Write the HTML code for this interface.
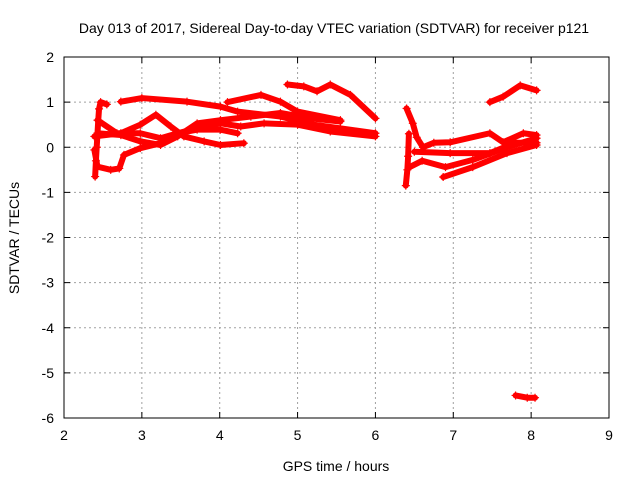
<!DOCTYPE html>
<html><head><meta charset="utf-8"><style>
body{margin:0;background:#fff}
svg text{font-family:"Liberation Sans",sans-serif;font-size:14px;fill:#000}
</style></head><body>
<svg id="c" width="640" height="480"></svg>
<script>
const xTicks=[2,3,4,5,6,7,8,9];
const yTicks=[2,1,0,-1,-2,-3,-4,-5,-6];
const track1=[[2.73,1.01],[3.0,1.09],[3.58,1.01],[4.01,0.9],[4.23,0.79],[4.78,0.68],[5.21,0.5],[5.55,0.42],[6.0,0.31]];
const track2=[[4.1,1.0],[4.53,1.16],[4.78,1.01],[5.0,0.79],[5.55,0.6]];
const track3=[[4.87,1.39],[5.08,1.35],[5.25,1.24],[5.42,1.39],[5.68,1.16],[6.0,0.64]];
const track4=[[2.39,0.24],[2.73,0.31],[2.98,0.5],[3.18,0.72],[3.37,0.46],[3.54,0.24],[3.8,0.13],[4.01,0.05],[4.31,0.09]];
const track5=[[2.43,0.31],[2.73,0.27],[2.98,0.13],[3.24,0.05],[3.46,0.24],[3.71,0.53],[4.01,0.6],[4.4,0.68],[4.78,0.76],[5.17,0.64],[5.55,0.57]];
const track6=[[2.43,0.6],[2.68,0.31],[2.98,0.31],[3.24,0.2],[3.46,0.31],[3.71,0.42],[4.01,0.53],[4.27,0.46],[4.57,0.53],[5.0,0.5],[5.42,0.35],[6.0,0.24]];
const track7=[[2.39,-0.06],[2.43,-0.43],[2.6,-0.5],[2.71,-0.47],[2.77,-0.17],[2.98,-0.02],[3.24,0.09],[3.46,0.31],[3.71,0.39],[4.01,0.39],[4.23,0.31]];
const track8=[[2.4,-0.65],[2.41,-0.3],[2.42,0.0],[2.43,0.3],[2.44,0.6],[2.45,0.85],[2.47,1.0],[2.55,0.95]];
const trackR1=[[7.47,1.0],[7.64,1.12],[7.86,1.37],[8.07,1.26]];
const trackR2=[[6.4,0.86],[6.48,0.53],[6.53,0.22],[6.61,0.0],[6.75,0.1],[6.96,0.11],[7.47,0.31],[7.64,0.11],[7.9,0.31],[8.07,0.27]];
const trackR3=[[6.87,-0.66],[7.25,-0.44],[7.69,-0.13],[8.07,0.05]];
const trackR4=[[6.44,-0.44],[6.6,-0.3],[6.9,-0.44],[7.25,-0.28],[7.69,0.0],[8.07,0.2]];
const trackR5=[[6.5,-0.1],[6.96,-0.13],[7.47,-0.13],[7.8,0.1],[8.07,0.1]];
const trackR6=[[6.39,-0.85],[6.41,-0.5],[6.42,-0.2],[6.43,0.3]];
const trackR7=[[7.8,-5.5],[7.95,-5.55],[8.05,-5.55]];
const tracks=[track1,track2,track3,track4,track5,track6,track7,track8,trackR1,trackR2,trackR3,trackR4,trackR5,trackR6,trackR7];
const L=64,R=609,T=57,B=418;
const X=t=>L+(t-2)/7*(R-L);
const Y=v=>T+(2-v)/8*(B-T);
const NS='http://www.w3.org/2000/svg';
const svg=document.getElementById('c');
function mk(tag,attrs,parent){const e=document.createElementNS(NS,tag);for(const k in attrs)e.setAttribute(k,attrs[k]);(parent||svg).appendChild(e);return e;}
const grid=mk('g',{});


xTicks.forEach(t=>{if(t>2&&t<9)mk('line',{x1:X(t),x2:X(t),y1:T,y2:B,stroke:'#a0a0a0','stroke-dasharray':'2,3'},grid);
 const tx=mk('text',{x:X(t),y:B+22,'text-anchor':'middle'});tx.textContent=t;
 
 
 mk('line',{x1:X(t),x2:X(t),y1:B,y2:B-6,stroke:'#000'});mk('line',{x1:X(t),x2:X(t),y1:T,y2:T+6,stroke:'#000'});});
yTicks.forEach(v=>{if(v<2&&v>-6)mk('line',{x1:L,x2:R,y1:Y(v),y2:Y(v),stroke:'#a0a0a0','stroke-dasharray':'2,3'},grid);
 const tx=mk('text',{x:L-10,y:Y(v)+5,'text-anchor':'end'});tx.textContent=v;
 
 
 mk('line',{x1:L,x2:L+6,y1:Y(v),y2:Y(v),stroke:'#000'});mk('line',{x1:R,x2:R-6,y1:Y(v),y2:Y(v),stroke:'#000'});});
const frame=mk('rect',{x:L,y:T,width:R-L,height:B-T,fill:'none',stroke:'#000'});


const series=mk('g',{});


tracks.forEach(tr=>{
 const pl=mk('polyline',{points:tr.map(p=>X(p[0])+','+Y(p[1])).join(' '),fill:'none',stroke:'#f00','stroke-width':6,'stroke-linejoin':'round','stroke-linecap':'round'},series);
 
 
 tr.forEach(p=>{const x=X(p[0]),y=Y(p[1]);
  const m=mk('path',{d:`M${x-4},${y}H${x+4}M${x},${y-4}V${y+4}`,stroke:'#f00','stroke-width':1.2},series);
  
  });
});
const title=mk('text',{x:334,y:33,'text-anchor':'middle'});title.textContent='Day 013 of 2017, Sidereal Day-to-day VTEC variation (SDTVAR) for receiver p121';


const xl=mk('text',{x:336,y:471,'text-anchor':'middle'});xl.textContent='GPS time / hours';


const yl=mk('text',{x:0,y:0,'text-anchor':'middle',transform:'translate(19,238) rotate(-90)'});yl.textContent='SDTVAR / TECUs';


</script>
</body></html>
